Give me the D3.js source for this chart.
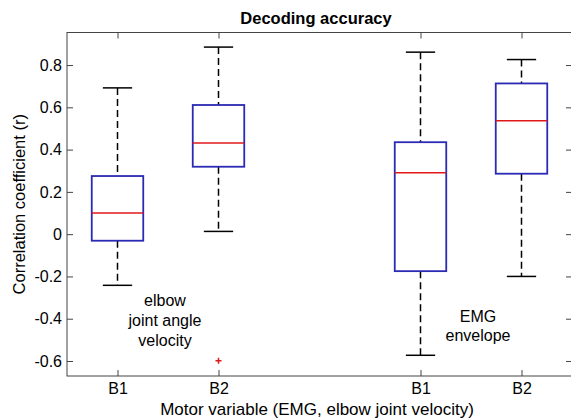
<!DOCTYPE html>
<html>
<head>
<meta charset="utf-8">
<script src="https://cdn.jsdelivr.net/npm/d3@7"></script>
<style>
  body { margin: 0; background: #fff; }
  svg { display: block; font-family: "Liberation Sans", Arial, Helvetica, sans-serif; }
</style>
</head>
<body>
<div id="chart"></div>
<script>
// box positions and labels (two groups of two, gap in between)
var positions = [1, 2, 4, 5];
var tickLabels = ["B1", "B2", "B1", "B2"];
// boxplot stats
var whiskerLow  = [-0.242, 0.013, -0.573, -0.200];
var q1          = [-0.031, 0.319, -0.175, 0.286];
var medians     = [0.100, 0.431, 0.291, 0.537];
var q3          = [0.275, 0.611, 0.435, 0.713];
var whiskerHigh = [0.692, 0.885, 0.861, 0.826];
var outliers    = [{pos: 2, value: -0.599}];
var yTicks = [-0.6, -0.4, -0.2, 0, 0.2, 0.4, 0.6, 0.8];

var W = 571, H = 418;
// plot area edges (note: "top" is a reserved window prop, so use an object)
var plot = {left: 67, right: 572, top: 32.5, bottom: 376};

var svg = d3.select("#chart").append("svg")
  .attr("width", W).attr("height", H);

var x = d3.scaleLinear().domain([0.5, 5.5]).range([plot.left, plot.right]);
var y = d3.scaleLinear().domain([-0.671, 0.954]).range([plot.bottom, plot.top]);

var axisColor = "#444";

// frame
svg.append("rect")
  .attr("x", plot.left).attr("y", plot.top)
  .attr("width", plot.right - plot.left).attr("height", plot.bottom - plot.top)
  .attr("fill", "none").attr("stroke", axisColor).attr("stroke-width", 1);

// y ticks (left, inward) + right ticks
svg.append("g")
  .attr("transform", "translate(" + plot.left + ",0)")
  .call(d3.axisLeft(y).tickValues(yTicks).tickSize(-6).tickPadding(5)
    .tickFormat(function(d){ return d === 0 ? "0" : d.toFixed(1); }))
  .call(function(g){
    g.select(".domain").remove();
    g.selectAll("line").attr("stroke", axisColor);
    g.selectAll("text").attr("font-size", 16).attr("fill", "#000");
  });
svg.append("g")
  .attr("transform", "translate(" + plot.right + ",0)")
  .call(d3.axisRight(y).tickValues(yTicks).tickSize(-6).tickFormat(""))
  .call(function(g){
    g.select(".domain").remove();
    g.selectAll("line").attr("stroke", axisColor);
  });

// x ticks (bottom inward with labels, top inward)
svg.append("g")
  .attr("transform", "translate(0," + plot.bottom + ")")
  .call(d3.axisBottom(x).tickValues(positions).tickSize(-6).tickPadding(7)
    .tickFormat(function(d, i){ return tickLabels[i]; }))
  .call(function(g){
    g.select(".domain").remove();
    g.selectAll("line").attr("stroke", axisColor);
    g.selectAll("text").attr("font-size", 16).attr("fill", "#000");
  });
svg.append("g")
  .attr("transform", "translate(0," + plot.top + ")")
  .call(d3.axisTop(x).tickValues(positions).tickSize(-6).tickFormat(""))
  .call(function(g){
    g.select(".domain").remove();
    g.selectAll("line").attr("stroke", axisColor);
  });

// boxes
var boxHalf = 0.255, capHalf = 0.145;
var stats = positions.map(function(p, i){
  return {pos: p, lo: whiskerLow[i], q1: q1[i], med: medians[i], q3: q3[i], hi: whiskerHigh[i]};
});

var g = svg.append("g");
g.selectAll(".wup").data(stats).enter().append("line")
  .attr("x1", function(d){ return x(d.pos); }).attr("x2", function(d){ return x(d.pos); })
  .attr("y1", function(d){ return y(d.hi); }).attr("y2", function(d){ return y(d.q3); })
  .attr("stroke", "#000").attr("stroke-width", 1.5).attr("stroke-dasharray", "7,4");
g.selectAll(".wlo").data(stats).enter().append("line")
  .attr("x1", function(d){ return x(d.pos); }).attr("x2", function(d){ return x(d.pos); })
  .attr("y1", function(d){ return y(d.q1); }).attr("y2", function(d){ return y(d.lo); })
  .attr("stroke", "#000").attr("stroke-width", 1.5).attr("stroke-dasharray", "7,4");
["hi", "lo"].forEach(function(k){
  g.selectAll(".cap" + k).data(stats).enter().append("line")
    .attr("x1", function(d){ return x(d.pos - capHalf); })
    .attr("x2", function(d){ return x(d.pos + capHalf); })
    .attr("y1", function(d){ return y(d[k]); }).attr("y2", function(d){ return y(d[k]); })
    .attr("stroke", "#000").attr("stroke-width", 1.5);
});
g.selectAll(".box").data(stats).enter().append("rect")
  .attr("x", function(d){ return x(d.pos - boxHalf); })
  .attr("width", function(d){ return x(d.pos + boxHalf) - x(d.pos - boxHalf); })
  .attr("y", function(d){ return y(d.q3); })
  .attr("height", function(d){ return y(d.q1) - y(d.q3); })
  .attr("fill", "none").attr("stroke", "#2a2ab4").attr("stroke-width", 1.8);
g.selectAll(".med").data(stats).enter().append("line")
  .attr("x1", function(d){ return x(d.pos - boxHalf); })
  .attr("x2", function(d){ return x(d.pos + boxHalf); })
  .attr("y1", function(d){ return y(d.med); }).attr("y2", function(d){ return y(d.med); })
  .attr("stroke", "#e01818").attr("stroke-width", 1.5);

// outliers as red +
outliers.forEach(function(o){
  var cx = x(o.pos), cy = y(o.value), s = 3;
  g.append("path")
    .attr("d", "M" + (cx - s) + "," + cy + "H" + (cx + s) + "M" + cx + "," + (cy - s) + "V" + (cy + s))
    .attr("stroke", "#e01818").attr("stroke-width", 1.5);
});

// annotations
var notes = [
  {x: 165, y: 306, t: "elbow"},
  {x: 165, y: 326, t: "joint angle"},
  {x: 165, y: 346, t: "velocity"},
  {x: 478, y: 322, t: "EMG"},
  {x: 478, y: 341, t: "envelope"}
];
svg.selectAll(".note").data(notes).enter().append("text")
  .attr("x", function(d){ return d.x; }).attr("y", function(d){ return d.y; })
  .attr("text-anchor", "middle").attr("font-size", 16).attr("fill", "#000")
  .text(function(d){ return d.t; });

// title and axis labels
svg.append("text")
  .attr("x", 316).attr("y", 23.5).attr("text-anchor", "middle")
  .attr("font-size", 16.5).attr("font-weight", "bold")
  .text("Decoding accuracy");
svg.append("text")
  .attr("x", 317).attr("y", 415).attr("text-anchor", "middle")
  .attr("font-size", 17)
  .text("Motor variable (EMG, elbow joint velocity)");
svg.append("text")
  .attr("transform", "translate(25," + ((plot.top + plot.bottom) / 2) + ") rotate(-90)")
  .attr("text-anchor", "middle").attr("font-size", 16.5)
  .text("Correlation coefficient (r)");
</script>
</body>
</html>
